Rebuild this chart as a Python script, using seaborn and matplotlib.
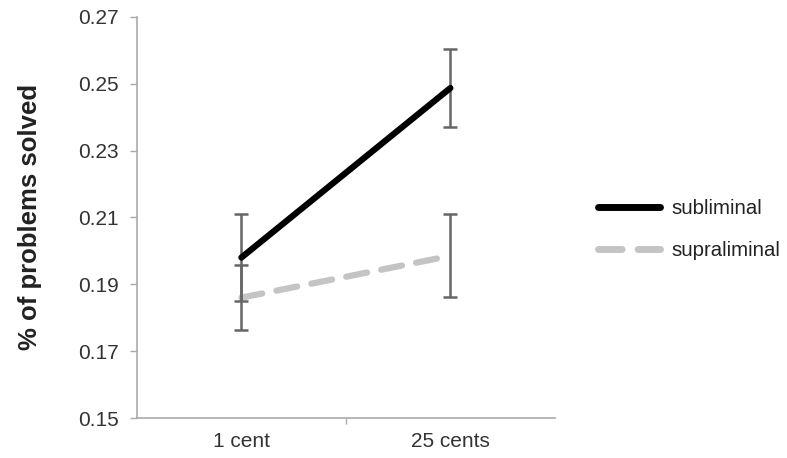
import matplotlib
matplotlib.use("Agg")
import matplotlib.pyplot as plt
import seaborn as sns
import pandas as pd
from matplotlib.ticker import FixedLocator
from matplotlib.colors import to_hex

categories = ["1 cent", "25 cents"]
conditions = ["subliminal", "supraliminal"]
subliminal_mean = [0.198, 0.2487]
subliminal_err = [0.013, 0.0118]
supraliminal_mean = [0.186, 0.1985]
supraliminal_err = [0.0097, 0.0124]
y_ticks = [0.15, 0.17, 0.19, 0.21, 0.23, 0.25, 0.27]

sns.set_style("white")
plt.rcParams["font.family"] = ["Liberation Sans", "DejaVu Sans"]

rows = []
for i, c in enumerate(categories):
    rows.append({"pos": i, "cat": c, "cond": "subliminal", "val": subliminal_mean[i], "err": subliminal_err[i]})
    rows.append({"pos": i, "cat": c, "cond": "supraliminal", "val": supraliminal_mean[i], "err": supraliminal_err[i]})
df = pd.DataFrame(rows)

fig = plt.figure(figsize=(7.87, 4.58), dpi=100)
ax = fig.add_axes([0.174, 0.0873, 0.531, 0.876])

for cond in conditions:
    d = df[df["cond"] == cond]
    ax.errorbar(d["pos"], d["val"], yerr=d["err"], fmt="none", ecolor="#666666",
                elinewidth=1.8, capsize=5, capthick=1.8, zorder=2.5)

sns.lineplot(data=df, x="pos", y="val", hue="cond", style="cond",
             palette={"subliminal": "#000000", "supraliminal": "#c4c4c4"},
             dashes={"subliminal": "", "supraliminal": (3.4, 2.3)},
             linewidth=4.5, ax=ax)

for ln in ax.get_lines():
    if ln.get_linewidth() > 3:
        if to_hex(ln.get_color()) == "#000000":
            ln.set_zorder(3)
        else:
            ln.set_zorder(2)
            ln.set_dash_capstyle("round")

ax.set_xlim(-0.5, 1.5)
ax.set_ylim(0.15, 0.27)
ax.set_yticks(y_ticks)
ax.set_yticklabels([f"{t:.2f}" for t in y_ticks])
ax.set_xticks([0, 1])
ax.set_xticklabels(categories)
ax.xaxis.set_minor_locator(FixedLocator([0.5]))
ax.tick_params(axis="x", which="major", length=0, labelsize=15, colors="#333333", pad=10)
ax.tick_params(axis="x", which="minor", length=4, width=1, color="#aaaaaa", direction="out", bottom=True)
ax.tick_params(axis="y", length=5, width=1, color="#aaaaaa", direction="out", labelsize=15,
               labelcolor="#333333", left=True, pad=8)
ax.set_xlabel("")
ax.set_ylabel("% of problems solved", fontsize=18.5, fontweight="bold", color="#222222", labelpad=26)

for s in ["top", "right"]:
    ax.spines[s].set_visible(False)
for s in ["left", "bottom"]:
    ax.spines[s].set_color("#aaaaaa")
    ax.spines[s].set_linewidth(1.2)

leg = ax.legend(loc="center left", bbox_to_anchor=(1.06, 0.47), frameon=False, fontsize=14.7,
                handlelength=3.0, handletextpad=0.6, labelspacing=1.1)
for t in leg.get_texts():
    t.set_color("#222222")
for h in leg.get_lines():
    h.set_linewidth(5)
    h.set_dash_capstyle("round")

fig.savefig("out.png", dpi=100)
